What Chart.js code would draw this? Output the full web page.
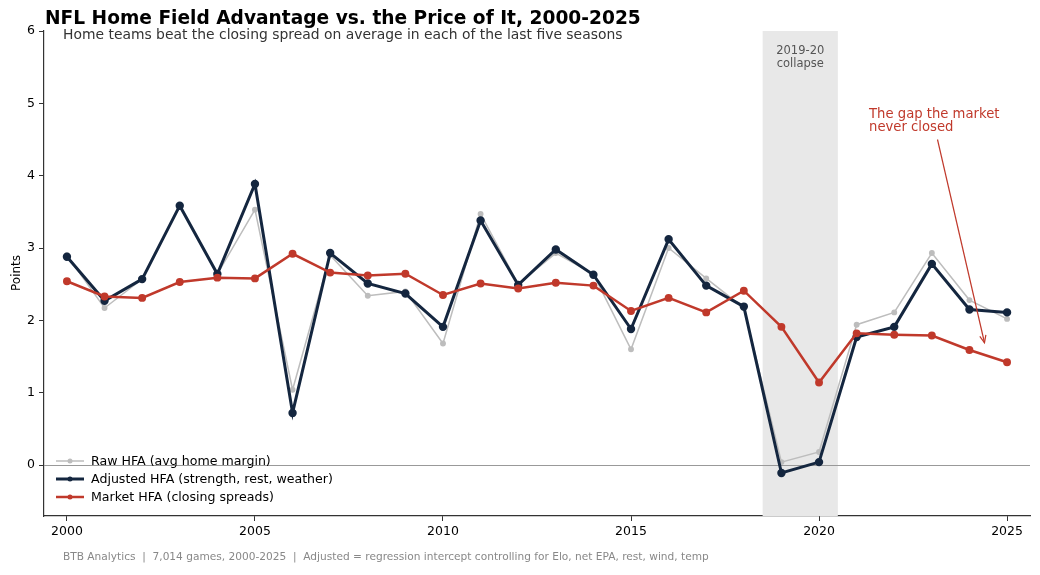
<!DOCTYPE html>
<html lang="en">
<head>
<meta charset="utf-8" />
<title>NFL Home Field Advantage</title>
<style>
  html, body { margin: 0; padding: 0; background: #fff; }
  canvas { display: block; }
</style>
</head>
<body>
<canvas id="hfaChart" width="1040" height="575"></canvas>
<script src="https://cdn.jsdelivr.net/npm/chart.js@4.4.1/dist/chart.umd.min.js"></script>
<script>
  // season values
  var years = [2000, 2001, 2002, 2003, 2004, 2005, 2006, 2007, 2008, 2009,
               2010, 2011, 2012, 2013, 2014, 2015, 2016, 2017, 2018, 2019,
               2020, 2021, 2022, 2023, 2024, 2025];
  var rawHfa = [2.90, 2.17, 2.57, 3.58, 2.64, 3.53, 1.04, 2.90, 2.34, 2.40,
                1.68, 3.47, 2.50, 2.93, 2.64, 1.60, 3.00, 2.58, 2.17, 0.04,
                0.18, 1.94, 2.11, 2.93, 2.28, 2.02];
  var adjustedHfa = [2.88, 2.27, 2.57, 3.585, 2.64, 3.885, 0.72, 2.93, 2.51, 2.37,
                     1.91, 3.38, 2.49, 2.98, 2.63, 1.88, 3.12, 2.48, 2.19, -0.11,
                     0.04, 1.77, 1.91, 2.78, 2.15, 2.11];
  var marketHfa = [2.54, 2.33, 2.31, 2.53, 2.59, 2.58, 2.92, 2.66, 2.62, 2.645,
                   2.35, 2.51, 2.44, 2.52, 2.48, 2.13, 2.31, 2.11, 2.41, 1.91,
                   1.14, 1.82, 1.80, 1.79, 1.59, 1.42];
  var xTicks = [2000, 2005, 2010, 2015, 2020, 2025];
  var yTicks = [0, 1, 2, 3, 4, 5, 6];
  var seriesNames = ["Raw HFA (avg home margin)",
                     "Adjusted HFA (strength, rest, weather)",
                     "Market HFA (closing spreads)"];
  var collapseSpan = [2018.5, 2020.5];

  var FONT = "'DejaVu Sans', sans-serif";
  var GRAY = "#bdbdbd", NAVY = "#14263f", RED = "#c0392b";

  function toPoints(vals) {
    return years.map(function (yr, i) { return { x: yr, y: vals[i] }; });
  }

  // background: shaded span + zero line
  var backdrop = {
    id: "backdrop",
    beforeDatasetsDraw: function (chart) {
      var ctx = chart.ctx, a = chart.chartArea;
      var xs = chart.scales.x, ys = chart.scales.y;
      ctx.save();
      ctx.fillStyle = "#e8e8e8";
      var x0 = xs.getPixelForValue(collapseSpan[0]);
      var x1 = xs.getPixelForValue(collapseSpan[1]);
      ctx.fillRect(x0, a.top, x1 - x0, a.bottom - a.top);
      ctx.fillStyle = "#555";
      ctx.font = "11.5px " + FONT;
      ctx.textAlign = "center";
      ctx.textBaseline = "top";
      ctx.fillText("2019-20", (x0 + x1) / 2, a.top + 14);
      ctx.fillText("collapse", (x0 + x1) / 2, a.top + 27);
      ctx.strokeStyle = "#999";
      ctx.lineWidth = 1;
      var y0 = Math.round(ys.getPixelForValue(0)) + 0.5;
      ctx.beginPath();
      ctx.moveTo(a.left, y0);
      ctx.lineTo(a.right, y0);
      ctx.stroke();
      ctx.restore();
    }
  };

  // titles, legend, annotation, footer
  var overlay = {
    id: "overlay",
    afterDraw: function (chart) {
      var ctx = chart.ctx;
      var xs = chart.scales.x, ys = chart.scales.y;
      ctx.save();
      ctx.textBaseline = "alphabetic";
      ctx.textAlign = "left";
      ctx.fillStyle = "#000";
      ctx.font = "bold 18.6px " + FONT;
      ctx.fillText("NFL Home Field Advantage vs. the Price of It, 2000-2025", 45, 24);
      ctx.fillStyle = "#333";
      ctx.font = "13.9px " + FONT;
      ctx.fillText("Home teams beat the closing spread on average in each of the last five seasons", 63, 39);

      ctx.fillStyle = "#888";
      ctx.font = "10.6px " + FONT;
      ctx.fillText("BTB Analytics  |  7,014 games, 2000-2025  |  Adjusted = regression intercept controlling for Elo, net EPA, rest, wind, temp", 63, 560);

      // y-axis title
      ctx.save();
      ctx.translate(20, 273);
      ctx.rotate(-Math.PI / 2);
      ctx.textAlign = "center";
      ctx.fillStyle = "#000";
      ctx.font = "12px " + FONT;
      ctx.fillText("Points", 0, 0);
      ctx.restore();

      // legend
      var colors = [GRAY, NAVY, RED];
      var widths = [1.5, 3, 2.5];
      ctx.font = "12.6px " + FONT;
      ctx.textBaseline = "middle";
      for (var i = 0; i < 3; i++) {
        var ly = 461 + i * 18;
        ctx.strokeStyle = colors[i];
        ctx.lineWidth = widths[i];
        ctx.beginPath();
        ctx.moveTo(56, ly);
        ctx.lineTo(84, ly);
        ctx.stroke();
        ctx.fillStyle = colors[i];
        ctx.beginPath();
        ctx.arc(70, ly, 2.5, 0, Math.PI * 2);
        ctx.fill();
        ctx.fillStyle = "#000";
        ctx.fillText(seriesNames[i], 91, ly + 1);
      }

      // annotation
      ctx.fillStyle = RED;
      ctx.font = "13.2px " + FONT;
      ctx.textBaseline = "alphabetic";
      var tx = xs.getPixelForValue(2021.33), ty = ys.getPixelForValue(4.8);
      ctx.fillText("The gap the market", tx, ty);
      ctx.fillText("never closed", tx, ty + 13.5);
      var sx = xs.getPixelForValue(2023.15), sy = ys.getPixelForValue(4.5);
      var ex = xs.getPixelForValue(2024.4), ey = ys.getPixelForValue(1.69);
      ctx.strokeStyle = RED;
      ctx.lineWidth = 1.2;
      ctx.beginPath();
      ctx.moveTo(sx, sy);
      ctx.lineTo(ex, ey);
      ctx.stroke();
      var ang = Math.atan2(ey - sy, ex - sx);
      ctx.beginPath();
      ctx.moveTo(ex - 8 * Math.cos(ang - 0.4), ey - 8 * Math.sin(ang - 0.4));
      ctx.lineTo(ex, ey);
      ctx.lineTo(ex - 8 * Math.cos(ang + 0.4), ey - 8 * Math.sin(ang + 0.4));
      ctx.stroke();
      ctx.restore();
    }
  };

  var ctx = document.getElementById("hfaChart").getContext("2d");
  var hfaChart = new Chart(ctx, {
    type: "line",
    data: {
      datasets: [
        { label: seriesNames[0], data: toPoints(rawHfa), borderColor: GRAY, backgroundColor: GRAY,
          borderWidth: 1.5, pointRadius: 2.2, order: 3 },
        { label: seriesNames[1], data: toPoints(adjustedHfa), borderColor: NAVY, backgroundColor: NAVY,
          borderWidth: 3, pointRadius: 2.7, order: 2 },
        { label: seriesNames[2], data: toPoints(marketHfa), borderColor: RED, backgroundColor: RED,
          borderWidth: 2.5, pointRadius: 2.7, order: 1 }
      ]
    },
    options: {
      responsive: false,
      animation: false,
      layout: { padding: { left: 0, right: 10, top: 31, bottom: 0 } },
      elements: { line: { tension: 0 }, point: { borderWidth: 0, hoverRadius: 3 } },
      plugins: { legend: { display: false }, title: { display: false }, tooltip: { enabled: false } },
      scales: {
        x: {
          type: "linear",
          min: 1999.39,
          max: 2025.61,
          afterBuildTicks: function (axis) { axis.ticks = xTicks.map(function (v) { return { value: v }; }); },
          afterFit: function (axis) { axis.height = 59; },
          grid: { drawOnChartArea: false, drawTicks: true, tickLength: 5, color: "#333" },
          border: { display: true, color: "#333", width: 1.2 },
          ticks: { color: "#000", font: { family: FONT, size: 12.5 }, padding: 3,
                   callback: function (v) { return String(v); } }
        },
        y: {
          min: -0.705,
          max: 6,
          afterBuildTicks: function (axis) { axis.ticks = yTicks.map(function (v) { return { value: v }; }); },
          afterFit: function (axis) { axis.width = 44; },
          grid: { drawOnChartArea: false, drawTicks: true, tickLength: 5, color: "#333" },
          border: { display: true, color: "#333", width: 1.2 },
          ticks: { color: "#000", font: { family: FONT, size: 12.5 }, padding: 4 }
        }
      }
    },
    plugins: [backdrop, overlay]
  });
</script>
</body>
</html>
